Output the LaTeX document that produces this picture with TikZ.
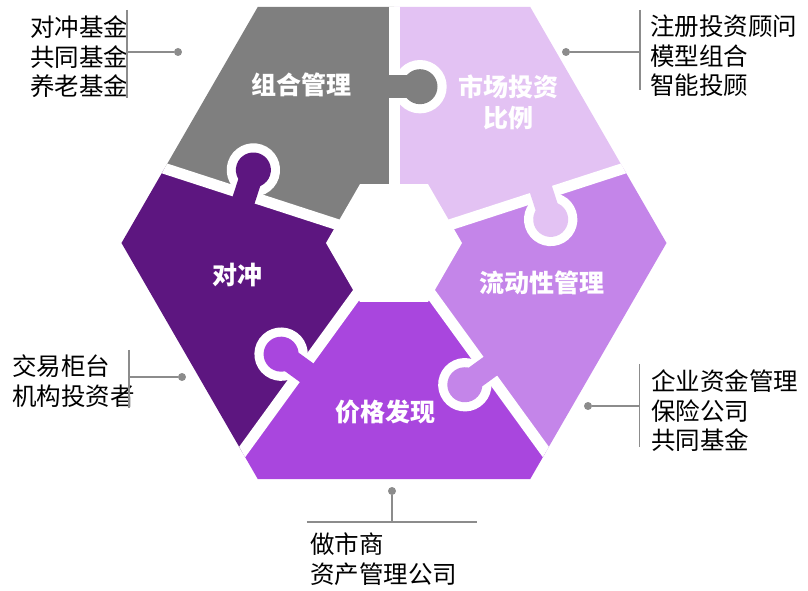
\documentclass[tikz,border=0pt]{standalone}
\usepackage{fontspec}
\newfontfamily\cjk{Noto Sans CJK SC}
\definecolor{cgray}{HTML}{7F7F7F}
\definecolor{clight}{HTML}{E3C2F3}
\definecolor{cmed}{HTML}{C485E9}
\definecolor{cprice}{HTML}{A946DE}
\definecolor{cdark}{HTML}{5D1680}
\definecolor{cline}{HTML}{8C8C8C}
\tikzset{
  plabel/.style={text=white, font=\cjk\bfseries\fontsize{25}{31}\selectfont, inner sep=0, align=center},
  elabel/.style={text=black, font=\cjk\fontsize{24.5}{29.5}\selectfont, inner sep=0, align=left, anchor=west},
  dotnode/.style={circle, fill=cline, draw=none, inner sep=0, minimum size=8},
  conn/.style={draw=cline, line width=1.4}
}
\begin{document}
\begin{tikzpicture}[x=1pt,y=1pt]
\useasboundingbox (-394,-348) rectangle (414,243);
% pieces
\begin{scope}
\clip (272.5,0) -- (136.25,236) -- (-136.25,236) -- (-272.5,0) -- (-136.25,-236) -- (136.25,-236) -- cycle;
\fill[clight] (0,0) -- (18:600) -- (54:600) -- (90:600) -- cycle;
\fill[cgray] (0,0) -- (90:600) -- (126:600) -- (162:600) -- cycle;
\fill[cdark] (0,0) -- (162:600) -- (198:600) -- (234:600) -- cycle;
\fill[cprice] (0,0) -- (234:600) -- (270:600) -- (306:600) -- cycle;
\fill[cmed] (0,0) -- (306:600) -- (342:600) -- (378:600) -- cycle;
\foreach \a in {18,90,162,234,306} \draw[white, line width=11] (0,0) -- (\a:600);
\end{scope}
% central hole
\fill[white] (0:68) -- (60:68) -- (120:68) -- (180:68) -- (240:68) -- (300:68) -- cycle;
% knobs
\foreach \a/\c in {90/cgray,162/cdark,234/cprice,306/cmed,18/clight} {
  \begin{scope}[rotate=\a]
    \fill[white] (156.3,-26) circle (26.7);
    \fill[\c] (144.8,7) rectangle (167.8,-26);
    \fill[\c] (156.3,-26) circle (17.5);
  \end{scope}
}
% piece labels
\node[plabel] (zh) at (-92,158) {组合管理};
\node[plabel] (sc) at (114,141) {市场投资\\比例};
\node[plabel] (dc) at (-156,-32) {对冲};
\node[plabel] (ld) at (148,-40) {流动性管理};
\node[plabel] (jg) at (-9,-169) {价格发现};
% top-left
\node[elabel] (t1) at (-364,186) {对冲基金\\共同基金\\养老基金};
\coordinate (b1t) at (-267,233);
\coordinate (b1b) at (-267,145);
\coordinate (b1m) at (-267,191);
\node[dotnode] (d1) at (-216,191) {};
\draw[conn] (b1t) -- (b1b);
\draw[conn] (b1m) -- (d1);
% top-right
\node[elabel] (t2) at (256,187) {注册投资顾问\\模型组合\\智能投顾};
\coordinate (b2t) at (246,233);
\coordinate (b2b) at (246,153);
\coordinate (b2m) at (246,191);
\node[dotnode] (d2) at (172,191) {};
\draw[conn] (b2t) -- (b2b);
\draw[conn] (d2) -- (b2m);
% left-middle
\node[elabel] (t3) at (-382,-138) {交易柜台\\机构投资者};
\coordinate (b3t) at (-265,-107);
\coordinate (b3b) at (-265,-165);
\coordinate (b3m) at (-265,-134);
\node[dotnode] (d3) at (-212,-134) {};
\draw[conn] (b3t) -- (b3b);
\draw[conn] (b3m) -- (d3);
% right-middle
\node[elabel] (t4) at (257,-168) {企业资金管理\\保险公司\\共同基金};
\coordinate (b4t) at (245.5,-121);
\coordinate (b4b) at (245.5,-204);
\coordinate (b4m) at (245.5,-163);
\node[dotnode] (d4) at (194,-163) {};
\draw[conn] (b4t) -- (b4b);
\draw[conn] (d4) -- (b4m);
% bottom
\node[elabel] (t5) at (-84,-316) {做市商\\资产管理公司};
\coordinate (b5l) at (-87,-279);
\coordinate (b5r) at (83,-279);
\coordinate (b5m) at (-2,-279);
\node[dotnode] (d5) at (-2,-248) {};
\draw[conn] (b5l) -- (b5r);
\draw[conn] (d5) -- (b5m);
\end{tikzpicture}
\end{document}
